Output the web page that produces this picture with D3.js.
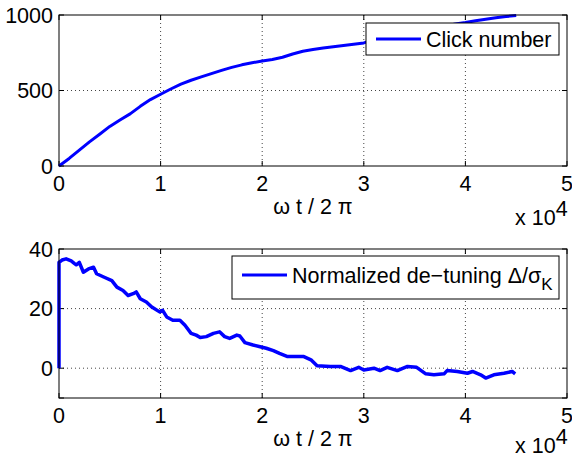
<!DOCTYPE html>
<html>
<head>
<meta charset="utf-8">
<script src="https://cdn.jsdelivr.net/npm/d3@7"></script>
<style>
  body { margin: 0; background: #fff; }
  text { font-family: "Liberation Sans", Arial, sans-serif; font-size: 21.5px; fill: #000; }
</style>
</head>
<body>
<svg id="chart" width="572" height="458"></svg>
<script>
// x values are in units of 1e4 (omega t / 2 pi)
const xTicks = [0, 1, 2, 3, 4, 5];

const clickT = [0, 0.1, 0.2, 0.3, 0.4, 0.5, 0.6, 0.7, 0.8, 0.9, 1.0, 1.1, 1.2, 1.3, 1.4, 1.5,
  1.6, 1.7, 1.8, 1.9, 2.0, 2.1, 2.2, 2.3, 2.4, 2.5, 2.6, 2.7, 2.8, 2.9, 3.0, 3.1, 3.2, 3.3,
  3.4, 3.5, 3.6, 3.7, 3.8, 3.9, 4.0, 4.1, 4.2, 4.3, 4.4, 4.5];
const clickN = [0, 50, 105, 160, 210, 262, 305, 345, 395, 440, 475, 510, 542, 568, 590, 612,
  633, 653, 670, 684, 695, 705, 720, 742, 760, 772, 782, 790, 798, 806, 815, 835, 852, 865,
  875, 885, 898, 910, 925, 940, 950, 962, 972, 982, 990, 996];
const clickTicks = [0, 500, 1000];

const detuneT = [0, 0, 0.03, 0.07, 0.12, 0.15, 0.17, 0.2, 0.24, 0.29, 0.34, 0.37, 0.44, 0.52,
  0.57, 0.63, 0.68, 0.73, 0.76, 0.8, 0.86, 0.91, 0.99, 1.02, 1.06, 1.12, 1.19, 1.24, 1.3, 1.35,
  1.39, 1.45, 1.52, 1.58, 1.63, 1.68, 1.75, 1.78, 1.83, 1.91, 1.98, 2.04, 2.11, 2.17, 2.25,
  2.34, 2.41, 2.48, 2.54, 2.67, 2.77, 2.87, 2.95, 3.0, 3.1, 3.16, 3.23, 3.33, 3.43, 3.52, 3.61,
  3.69, 3.79, 3.82, 3.92, 4.02, 4.07, 4.15, 4.2, 4.28, 4.38, 4.46, 4.49];
const detuneV = [0, 35.5, 36.3, 36.7, 36, 35.2, 34.7, 35.5, 32.2, 33.3, 33.9, 31.7, 30.6, 29.4,
  27.2, 26.1, 24.4, 25, 25.6, 23.3, 22.2, 20.6, 18.9, 19.4, 17.2, 16.1, 16.1, 14.4, 11.7, 11.1,
  10.3, 10.6, 11.7, 12.2, 10.6, 10, 11.1, 10.8, 8.6, 7.8, 7.2, 6.7, 5.9, 5, 3.9,
  3.9, 3.9, 2.8, 0.8, 0.6, 0.6, -0.8, 0.3, -0.6, 0, -0.8, 0.3, -0.8, 0.6, 0.3, -1.9,
  -2.2, -1.9, -0.8, -1.1, -1.7, -1.1, -2.2, -3.3, -2.2, -1.7, -1.1, -1.9];
const detuneTicks = [-10, 0, 20, 40];
const detuneLabels = [0, 20, 40];

const svg = d3.select('#chart');
const L = 59, R = 567;

function panel(o) {
  const x = d3.scaleLinear().domain([0, 5]).range([L, R]);
  const y = d3.scaleLinear().domain(o.yDomain).range([o.bottom, o.top]);
  const g = svg.append('g');

  // grid
  g.selectAll('.gx').data(xTicks.filter(d => d > 0 && d < 5)).enter().append('line')
    .attr('x1', d => x(d)).attr('x2', d => x(d))
    .attr('y1', o.top).attr('y2', o.bottom)
    .attr('stroke', '#444').attr('stroke-width', 1).attr('stroke-dasharray', '1,3');
  g.selectAll('.gy').data(o.grid).enter().append('line')
    .attr('x1', L).attr('x2', R)
    .attr('y1', d => y(d)).attr('y2', d => y(d))
    .attr('stroke', '#444').attr('stroke-width', 1).attr('stroke-dasharray', '1,3');

  // inside ticks
  const tk = 5;
  xTicks.forEach(d => {
    g.append('line').attr('x1', x(d)).attr('x2', x(d)).attr('y1', o.bottom).attr('y2', o.bottom - tk).attr('stroke', '#000');
    g.append('line').attr('x1', x(d)).attr('x2', x(d)).attr('y1', o.top).attr('y2', o.top + tk).attr('stroke', '#000');
  });
  o.ticks.forEach(d => {
    g.append('line').attr('x1', L).attr('x2', L + tk).attr('y1', y(d)).attr('y2', y(d)).attr('stroke', '#000');
    g.append('line').attr('x1', R).attr('x2', R - tk).attr('y1', y(d)).attr('y2', y(d)).attr('stroke', '#000');
  });

  // data
  const line = d3.line().x(d => x(d[0])).y(d => y(d[1]));
  g.append('path').datum(d3.zip(o.xs, o.ys))
    .attr('d', line).attr('fill', 'none')
    .attr('stroke', '#0000ff').attr('stroke-width', o.lw)
    .attr('stroke-linejoin', 'round');

  // box
  g.append('rect').attr('x', L).attr('y', o.top).attr('width', R - L).attr('height', o.bottom - o.top)
    .attr('fill', 'none').attr('stroke', '#000').attr('stroke-width', 1);

  // tick labels
  g.selectAll('.xl').data(xTicks).enter().append('text')
    .attr('x', d => x(d)).attr('y', o.bottom + 25).attr('text-anchor', 'middle').text(d => d);
  g.selectAll('.yl').data(o.labels).enter().append('text')
    .attr('x', L - 6).attr('y', d => y(d)).attr('dy', '0.36em').attr('text-anchor', 'end').text(d => d);

  // axis label + exponent
  g.append('text').attr('x', (L + R) / 2).attr('y', o.bottom + 48).attr('text-anchor', 'middle')
    .text('\u03c9 t / 2 \u03c0');
  const ex = g.append('text').attr('x', 515).attr('y', o.bottom + o.exY);
  ex.append('tspan').text('x 10');
  ex.append('tspan').attr('dy', -9).text('4');

  // legend
  const lg = g.append('g');
  lg.append('rect').attr('x', o.leg[0]).attr('y', o.leg[1]).attr('width', o.leg[2]).attr('height', o.leg[3])
    .attr('fill', '#fff').attr('stroke', '#000').attr('stroke-width', 1);
  const cy = o.leg[1] + o.legMid;
  lg.append('line').attr('x1', o.leg[0] + 10).attr('x2', o.leg[0] + 55)
    .attr('y1', cy).attr('y2', cy).attr('stroke', '#0000ff').attr('stroke-width', 3);
  const t = lg.append('text').attr('x', o.leg[0] + 60).attr('y', cy).attr('dy', '0.36em');
  o.legText(t);
}

panel({
  top: 15, bottom: 166, yDomain: [0, 1000],
  grid: [500], ticks: clickTicks, labels: clickTicks,
  xs: clickT, ys: clickN, lw: 3, exY: 59,
  leg: [366, 23, 193, 32], legMid: 16,
  legText: t => t.text('Click number')
});

panel({
  top: 249, bottom: 398, yDomain: [-10, 40],
  grid: [0, 20], ticks: detuneTicks, labels: detuneLabels,
  xs: detuneT, ys: detuneV, lw: 3.5, exY: 55,
  leg: [232, 256, 327, 43], legMid: 19,
  legText: t => {
    t.append('tspan').text('Normalized de\u2212tuning \u0394/\u03c3');
    t.append('tspan').attr('dy', 7).attr('font-size', 17).text('K');
  }
});
</script>
</body>
</html>
